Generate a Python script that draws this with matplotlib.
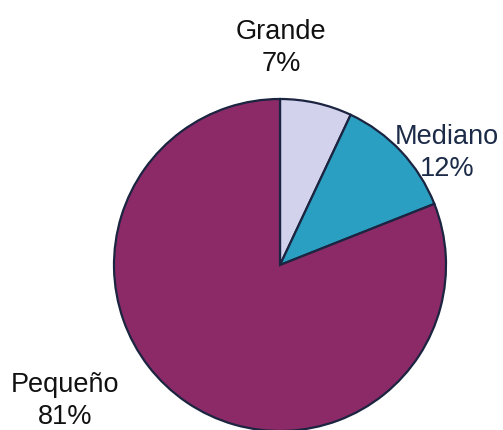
import matplotlib.pyplot as plt

categorias = ["Grande", "Mediano", "Pequeño"]
porcentajes = [7, 12, 81]
colores = ["#d2d2ec", "#2b9fc2", "#8b2a66"]

W, H = 503, 430
fig = plt.figure(figsize=(W / 100, H / 100), dpi=100)
ax = fig.add_axes([0, 0, 1, 1])

cx, cy, r = 280, H - 265, 166
ax.pie(
    porcentajes,
    colors=colores,
    startangle=90,
    counterclock=False,
    center=(cx, cy),
    radius=r,
    frame=True,
    wedgeprops=dict(edgecolor="#1b2440", linewidth=1.6),
)
ax.set_xlim(0, W)
ax.set_ylim(0, H)
ax.set_aspect("equal")
ax.axis("off")

# etiquetas: nombre arriba, porcentaje abajo
posiciones = [(281, H - 48, "#111111"),
              (447, H - 153, "#1c2b48"),
              (65, H - 401, "#111111")]
for cat, pct, (x, y, col) in zip(categorias, porcentajes, posiciones):
    ax.text(x, y, f"{cat}\n{pct}%", ha="center", va="center", fontsize=19.5,
            family="Liberation Sans", color=col, linespacing=1.3)

fig.savefig("out.png", dpi=100, facecolor="white")
